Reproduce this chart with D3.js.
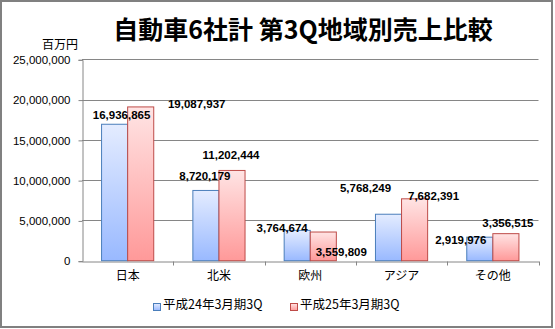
<!DOCTYPE html>
<html><head><meta charset="utf-8">
<script src="https://cdn.jsdelivr.net/npm/d3@7"></script>
<style>body{margin:0;background:#fff}svg{display:block}</style>
</head><body>
<script>
const categories = ["日本","北米","欧州","アジア","その他"];
const seriesNames = ["平成24年3月期3Q","平成25年3月期3Q"];
const fy2012 = [16936865, 8720179, 3764674, 5768249, 2919976];
const fy2013 = [19087937, 11202444, 3559809, 7682391, 3356515];
const yTicks = [0, 5000000, 10000000, 15000000, 20000000, 25000000];
// label nudges (dx, dy relative to bar top centre), as placed in the original
const labelNudge = [
  [[7,-8],[56,-2]],
  [[-1,-13],[-1,-14]],
  [[-15,-1],[18,21]],
  [[-23,-25],[19,-2]],
  [[-19,4],[2,-10]]
];

const W=555,H=329;
const svg=d3.select("body").append("svg").attr("width",W).attr("height",H);
const defs=svg.append("defs");
const gradB=defs.append("linearGradient").attr("id","gB").attr("x1",0).attr("y1",0).attr("x2",0).attr("y2",1);
gradB.append("stop").attr("offset","0%").attr("stop-color","#e4ecff");
gradB.append("stop").attr("offset","100%").attr("stop-color","#99b9ff");
const gradR=defs.append("linearGradient").attr("id","gR").attr("x1",0).attr("y1",0).attr("x2",0).attr("y2",1);
gradR.append("stop").attr("offset","0%").attr("stop-color","#ffe4e4");
gradR.append("stop").attr("offset","100%").attr("stop-color","#ff9999");

svg.append("rect").attr("x",1).attr("y",1).attr("width",551).attr("height",326)
  .attr("fill","#fff").attr("stroke","#808080").attr("stroke-width",2);

const L=82,R=538.5,T=59.3,B=260.7;
const x=d3.scaleBand().domain(categories).range([L,R]).paddingInner(0).paddingOuter(0);
const y=d3.scaleLinear().domain([0,25000000]).range([B,T]);
const gapFrac=1.5;
const bw=x.bandwidth()/(2+gapFrac);
const fmt=d3.format(",");

// gridlines
svg.append("g").selectAll("line").data(yTicks.filter(d=>d>0)).join("line")
  .attr("x1",L).attr("x2",R).attr("y1",d=>Math.round(y(d))+0.5).attr("y2",d=>Math.round(y(d))+0.5)
  .attr("stroke","#868686").attr("stroke-width",1);

// y axis
const yAxis=d3.axisLeft(y).tickValues(yTicks).tickFormat(fmt).tickSize(4).tickPadding(8);
const gy=svg.append("g").attr("transform",`translate(${L+0.5},0.5)`).call(yAxis);
gy.select(".domain").attr("stroke","#868686");
gy.selectAll(".tick line").attr("stroke","#868686");
gy.selectAll("text").attr("font-family","'Liberation Sans',Arial,sans-serif").attr("font-size","11.5px").attr("fill","#000");

// x axis
const xAxis=d3.axisBottom(x).tickSize(0).tickPadding(10);
const gx=svg.append("g").attr("transform",`translate(0,${Math.round(B)+0.5})`).call(xAxis);
gx.select(".domain").attr("stroke","#868686");
gx.selectAll("text").attr("font-family","'Noto Sans CJK JP',sans-serif").attr("font-size","12px").attr("fill","#000");
gx.selectAll(".sep").data(categories).join("line").attr("class","sep")
  .attr("x1",d=>Math.round(x(d)+x.bandwidth())+0.5).attr("x2",d=>Math.round(x(d)+x.bandwidth())+0.5)
  .attr("y1",0).attr("y2",4).attr("stroke","#868686");

const series=[{vals:fy2012,fill:"url(#gB)",stroke:"#4a7ebb"},{vals:fy2013,fill:"url(#gR)",stroke:"#be4b48"}];
const bx=(i,si)=>x(categories[i])+bw*gapFrac/2+si*bw;
series.forEach((s,si)=>{
  svg.append("g").selectAll("rect").data(s.vals).join("rect")
    .attr("x",(d,i)=>bx(i,si)).attr("y",d=>y(d)).attr("width",bw).attr("height",d=>B-y(d))
    .attr("fill",s.fill).attr("stroke",s.stroke).attr("stroke-width",1);
});
series.forEach((s,si)=>{
  svg.append("g").selectAll("text").data(s.vals).join("text")
    .attr("x",(d,i)=>bx(i,si)+bw/2+labelNudge[i][si][0])
    .attr("y",(d,i)=>y(d)+labelNudge[i][si][1])
    .attr("text-anchor","middle").attr("dominant-baseline","middle")
    .attr("font-family","'Liberation Sans',Arial,sans-serif").attr("font-weight","bold").attr("font-size","11.5px")
    .text(d=>fmt(d));
});

// title
svg.append("text").attr("x",303).attr("y",32).attr("text-anchor","middle").attr("dominant-baseline","middle")
  .attr("font-family","'Noto Sans CJK JP',sans-serif").attr("font-weight","bold").attr("font-size","25px")
  .text("自動車6社計 第3Q地域別売上比較");
svg.append("text").attr("x",60).attr("y",46).attr("text-anchor","middle").attr("dominant-baseline","middle")
  .attr("font-family","'Noto Sans CJK JP',sans-serif").attr("font-size","12px").text("百万円");

// legend
const legX=[153,290];
const lg=svg.append("g");
seriesNames.forEach((n,i)=>{
  lg.append("rect").attr("x",legX[i]+0.5).attr("y",303.5).attr("width",7).attr("height",7)
    .attr("fill",series[i].fill).attr("stroke",series[i].stroke);
  lg.append("text").attr("x",legX[i]+10).attr("y",306).attr("dominant-baseline","middle")
    .attr("font-family","'Noto Sans CJK JP',sans-serif").attr("font-size","12.5px").text(n);
});
</script>
</body></html>
